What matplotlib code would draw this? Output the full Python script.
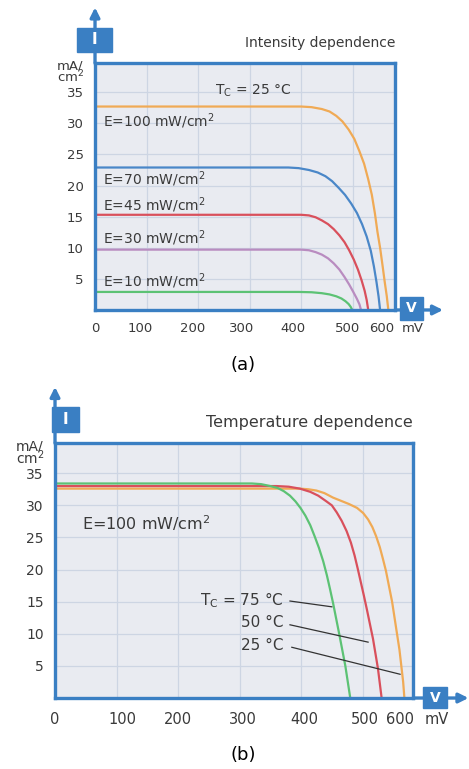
import matplotlib
matplotlib.use('Agg')
import matplotlib.pyplot as plt
from matplotlib.patches import Rectangle

plt.rcParams['font.family'] = ['DejaVu Sans']

# ---- data (V in mV, I in mA/cm2) ----
# (a) intensity dependence, Tc = 25 C
e100_v = [0, 400, 420, 440, 455, 468, 480, 492, 503, 513, 522, 530, 537, 543, 548, 553, 558, 562, 566, 569]
e100_i = [32.7, 32.7, 32.6, 32.3, 31.9, 31.2, 30.3, 29, 27.5, 25.5, 23.5, 21, 18.5, 15.5, 12.5, 10, 7, 4.5, 2.2, 0]
e70_v = [0, 375, 395, 415, 432, 447, 460, 473, 485, 497, 508, 518, 527, 535, 541, 546, 550, 553]
e70_i = [22.9, 22.9, 22.8, 22.5, 22.1, 21.5, 20.7, 19.6, 18.5, 17.1, 15.6, 13.8, 11.8, 9.5, 7, 4.5, 2.2, 0]
e45_v = [0, 400, 415, 428, 440, 452, 463, 474, 484, 493, 502, 510, 517, 523, 527, 530]
e45_i = [15.3, 15.3, 15.2, 14.9, 14.4, 13.8, 13, 12, 10.9, 9.6, 8.1, 6.5, 4.8, 3.1, 1.6, 0]
e30_v = [0, 400, 415, 428, 440, 452, 463, 474, 484, 493, 501, 508, 513, 516]
e30_i = [9.7, 9.7, 9.6, 9.3, 8.9, 8.3, 7.5, 6.5, 5.3, 4.1, 2.9, 1.8, 0.9, 0]
e10_v = [0, 395, 420, 440, 455, 468, 478, 486, 492, 496, 499]
e10_i = [2.9, 2.9, 2.85, 2.7, 2.5, 2.2, 1.85, 1.4, 0.95, 0.5, 0]

# (b) temperature dependence, E = 100 mW/cm2
t75_v = [0, 320, 335, 350, 362, 372, 382, 391, 399, 407, 415, 422, 429, 436, 442, 447, 452, 457, 462, 467, 472, 476, 480]
t75_i = [33.4, 33.4, 33.3, 33, 32.7, 32.2, 31.5, 30.6, 29.6, 28.4, 26.9, 25.2, 23.4, 21.3, 19.1, 17, 14.8, 12.4, 10, 7.5, 5, 2.5, 0]
t50_v = [0, 360, 380, 398, 415, 428, 440, 450, 458, 466, 474, 481, 487, 492, 497, 502, 507, 512, 517, 521, 525, 528, 531]
t50_i = [33.0, 33.0, 32.9, 32.6, 32.1, 31.5, 30.7, 30, 28.9, 27.6, 26, 24.2, 22.2, 20.2, 18.1, 16, 13.8, 11.5, 9.2, 6.9, 4.6, 2.3, 0]
t25_v = [0, 398, 412, 425, 438, 452, 465, 478, 491, 501, 509, 516, 522, 528, 533, 538, 543, 548, 552, 556, 560, 563, 566, 568]
t25_i = [32.6, 32.6, 32.5, 32.3, 31.9, 31.2, 30.7, 30.2, 29.6, 28.8, 27.8, 26.6, 25.2, 23.5, 21.7, 19.8, 17.4, 15, 12.5, 10, 7.5, 5, 2.5, 0]

x_grid = [100, 200, 300, 400, 500]
y_ticks = [5, 10, 15, 20, 25, 30, 35]
x_tick_labels = ['0', '100', '200', '300', '400', '500', '600']
# where the printed labels sit along the axis (mV scale), top and bottom panel
x_label_pos_a = [0, 87, 190, 285, 384, 489, 557]
x_label_pos_b = [0, 109, 200, 306, 406, 504, 561]

FRAME = '#3a7fc3'
BG = '#e9ebf1'
GRID = '#cdd5e3'
TXT = '#3a3a3a'

ORANGE = '#f0aa55'
BLUE = '#4a87c8'
RED = '#d9505c'
PURPLE = '#b98cc0'
GREEN = '#5cc274'


def setup_axes(ax, label_pos, mv_pos, fsx, fsy, pad, box_x, box_y, vbox_x, vbox_y, up_tip, right_tip):
    ax.set_xlim(0, 582)
    ax.set_ylim(0, 39.7)
    ax.set_facecolor(BG)
    for v in x_grid:
        ax.axvline(v, color=GRID, lw=0.9, zorder=0)
    for v in y_ticks:
        ax.axhline(v, color=GRID, lw=0.9, zorder=0)
    for s in ax.spines.values():
        s.set_color(FRAME)
        s.set_linewidth(2.4)
    ax.set_xticks(label_pos)
    ax.set_xticklabels(x_tick_labels)
    ax.set_yticks(y_ticks)
    ax.tick_params(length=0, colors=TXT)
    ax.tick_params(axis='x', pad=pad, labelsize=fsx)
    ax.tick_params(axis='y', pad=8, labelsize=fsy)
    ax.annotate('mV', xy=(mv_pos, 0), xycoords=('data', 'axes fraction'),
                xytext=(0, -pad), textcoords='offset points', ha='center', va='top',
                fontsize=fsx, color=TXT, annotation_clip=False)

    # vertical axis arrow with "I" box
    ax.annotate('', xy=(0, up_tip), xytext=(0, 1), xycoords='axes fraction',
                arrowprops=dict(arrowstyle='-|>', color=FRAME, lw=2.4,
                                mutation_scale=14, shrinkA=0, shrinkB=0))
    ax.add_patch(Rectangle((box_x[0], box_y[0]), box_x[1] - box_x[0], box_y[1] - box_y[0],
                           transform=ax.transAxes, clip_on=False, color=FRAME, zorder=5))
    ax.text(sum(box_x) / 2, sum(box_y) / 2, 'I', transform=ax.transAxes, ha='center',
            va='center', color='white', fontsize=11, fontweight='bold', zorder=6)

    # horizontal axis arrow with "V" box
    ax.annotate('', xy=(right_tip, 0), xytext=(1, 0), xycoords='axes fraction',
                arrowprops=dict(arrowstyle='-|>', color=FRAME, lw=2.4,
                                mutation_scale=14, shrinkA=0, shrinkB=0))
    ax.add_patch(Rectangle((vbox_x[0], vbox_y[0]), vbox_x[1] - vbox_x[0], vbox_y[1] - vbox_y[0],
                           transform=ax.transAxes, clip_on=False, color=FRAME, zorder=5))
    ax.text(sum(vbox_x) / 2, sum(vbox_y) / 2, 'V', transform=ax.transAxes, ha='center',
            va='center', color='white', fontsize=10, fontweight='bold', zorder=6)


fig = plt.figure(figsize=(4.69, 7.69), dpi=100)

# ---------------- (a) ----------------
ax1 = fig.add_axes([0.2026, 0.5969, 0.6397, 0.3212])
setup_axes(ax1, x_label_pos_a, 617, 9.5, 9.5, 9, (-0.06, 0.057), (1.045, 1.142),
           (1.017, 1.093), (-0.04, 0.053), 1.225, 1.16)
ax1.plot(e100_v, e100_i, color=ORANGE, lw=1.6)
ax1.plot(e70_v, e70_i, color=BLUE, lw=1.6)
ax1.plot(e45_v, e45_i, color=RED, lw=1.6)
ax1.plot(e30_v, e30_i, color=PURPLE, lw=1.6)
ax1.plot(e10_v, e10_i, color=GREEN, lw=1.6)

lab = dict(fontsize=10, color=TXT, va='center')
ax1.text(307, 35.2, r'T$_\mathregular{C}$ = 25 °C', ha='center', **lab)
ax1.text(16, 30.4, r'E=100 mW/cm$^\mathregular{2}$', **lab)
ax1.text(16, 21.0, r'E=70 mW/cm$^\mathregular{2}$', **lab)
ax1.text(16, 16.8, r'E=45 mW/cm$^\mathregular{2}$', **lab)
ax1.text(16, 11.6, r'E=30 mW/cm$^\mathregular{2}$', **lab)
ax1.text(16, 4.6, r'E=10 mW/cm$^\mathregular{2}$', **lab)
ax1.text(1.0, 1.08, 'Intensity dependence', transform=ax1.transAxes, ha='right',
         va='center', fontsize=10, color=TXT)
ax1.text(-0.083, 0.962, 'mA/\ncm$^\\mathregular{2}$', transform=ax1.transAxes, ha='center',
         va='center', fontsize=9.5, color=TXT, linespacing=0.7)
fig.text(0.518, 0.525, '(a)', ha='center', va='center', fontsize=13)

# ---------------- (b) ----------------
ax2 = fig.add_axes([0.1173, 0.0923, 0.7633, 0.3316])
setup_axes(ax2, x_label_pos_b, 621, 10.5, 10, 10, (-0.008, 0.067), (1.043, 1.141),
           (1.028, 1.095), (-0.039, 0.043), 1.22, 1.155)
ax2.plot(t25_v, t25_i, color=ORANGE, lw=1.6)
ax2.plot(t50_v, t50_i, color=RED, lw=1.6)
ax2.plot(t75_v, t75_i, color=GREEN, lw=1.6)

lab2 = dict(fontsize=11, color=TXT, va='center')
ax2.text(44, 27.3, r'E=100 mW/cm$^\mathregular{2}$', fontsize=11.5, color=TXT, va='center')
ax2.text(371, 15.2, r'T$_\mathregular{C}$ = 75 °C', ha='right', **lab2)
ax2.text(371, 11.7, '50 °C', ha='right', **lab2)
ax2.text(371, 8.2, '25 °C', ha='right', **lab2)
ax2.plot([382, 450], [15.1, 14.2], color='#333333', lw=0.9)
ax2.plot([382, 509], [11.4, 8.7], color='#333333', lw=0.9)
ax2.plot([385, 561], [7.9, 3.7], color='#333333', lw=0.9)
ax2.text(1.0, 1.08, 'Temperature dependence', transform=ax2.transAxes, ha='right',
         va='center', fontsize=11.5, color=TXT)
ax2.text(-0.07, 0.96, 'mA/\ncm$^\\mathregular{2}$', transform=ax2.transAxes, ha='center',
         va='center', fontsize=10, color=TXT, linespacing=0.7)
fig.text(0.518, 0.018, '(b)', ha='center', va='center', fontsize=13)

fig.savefig('out.png', dpi=100)
